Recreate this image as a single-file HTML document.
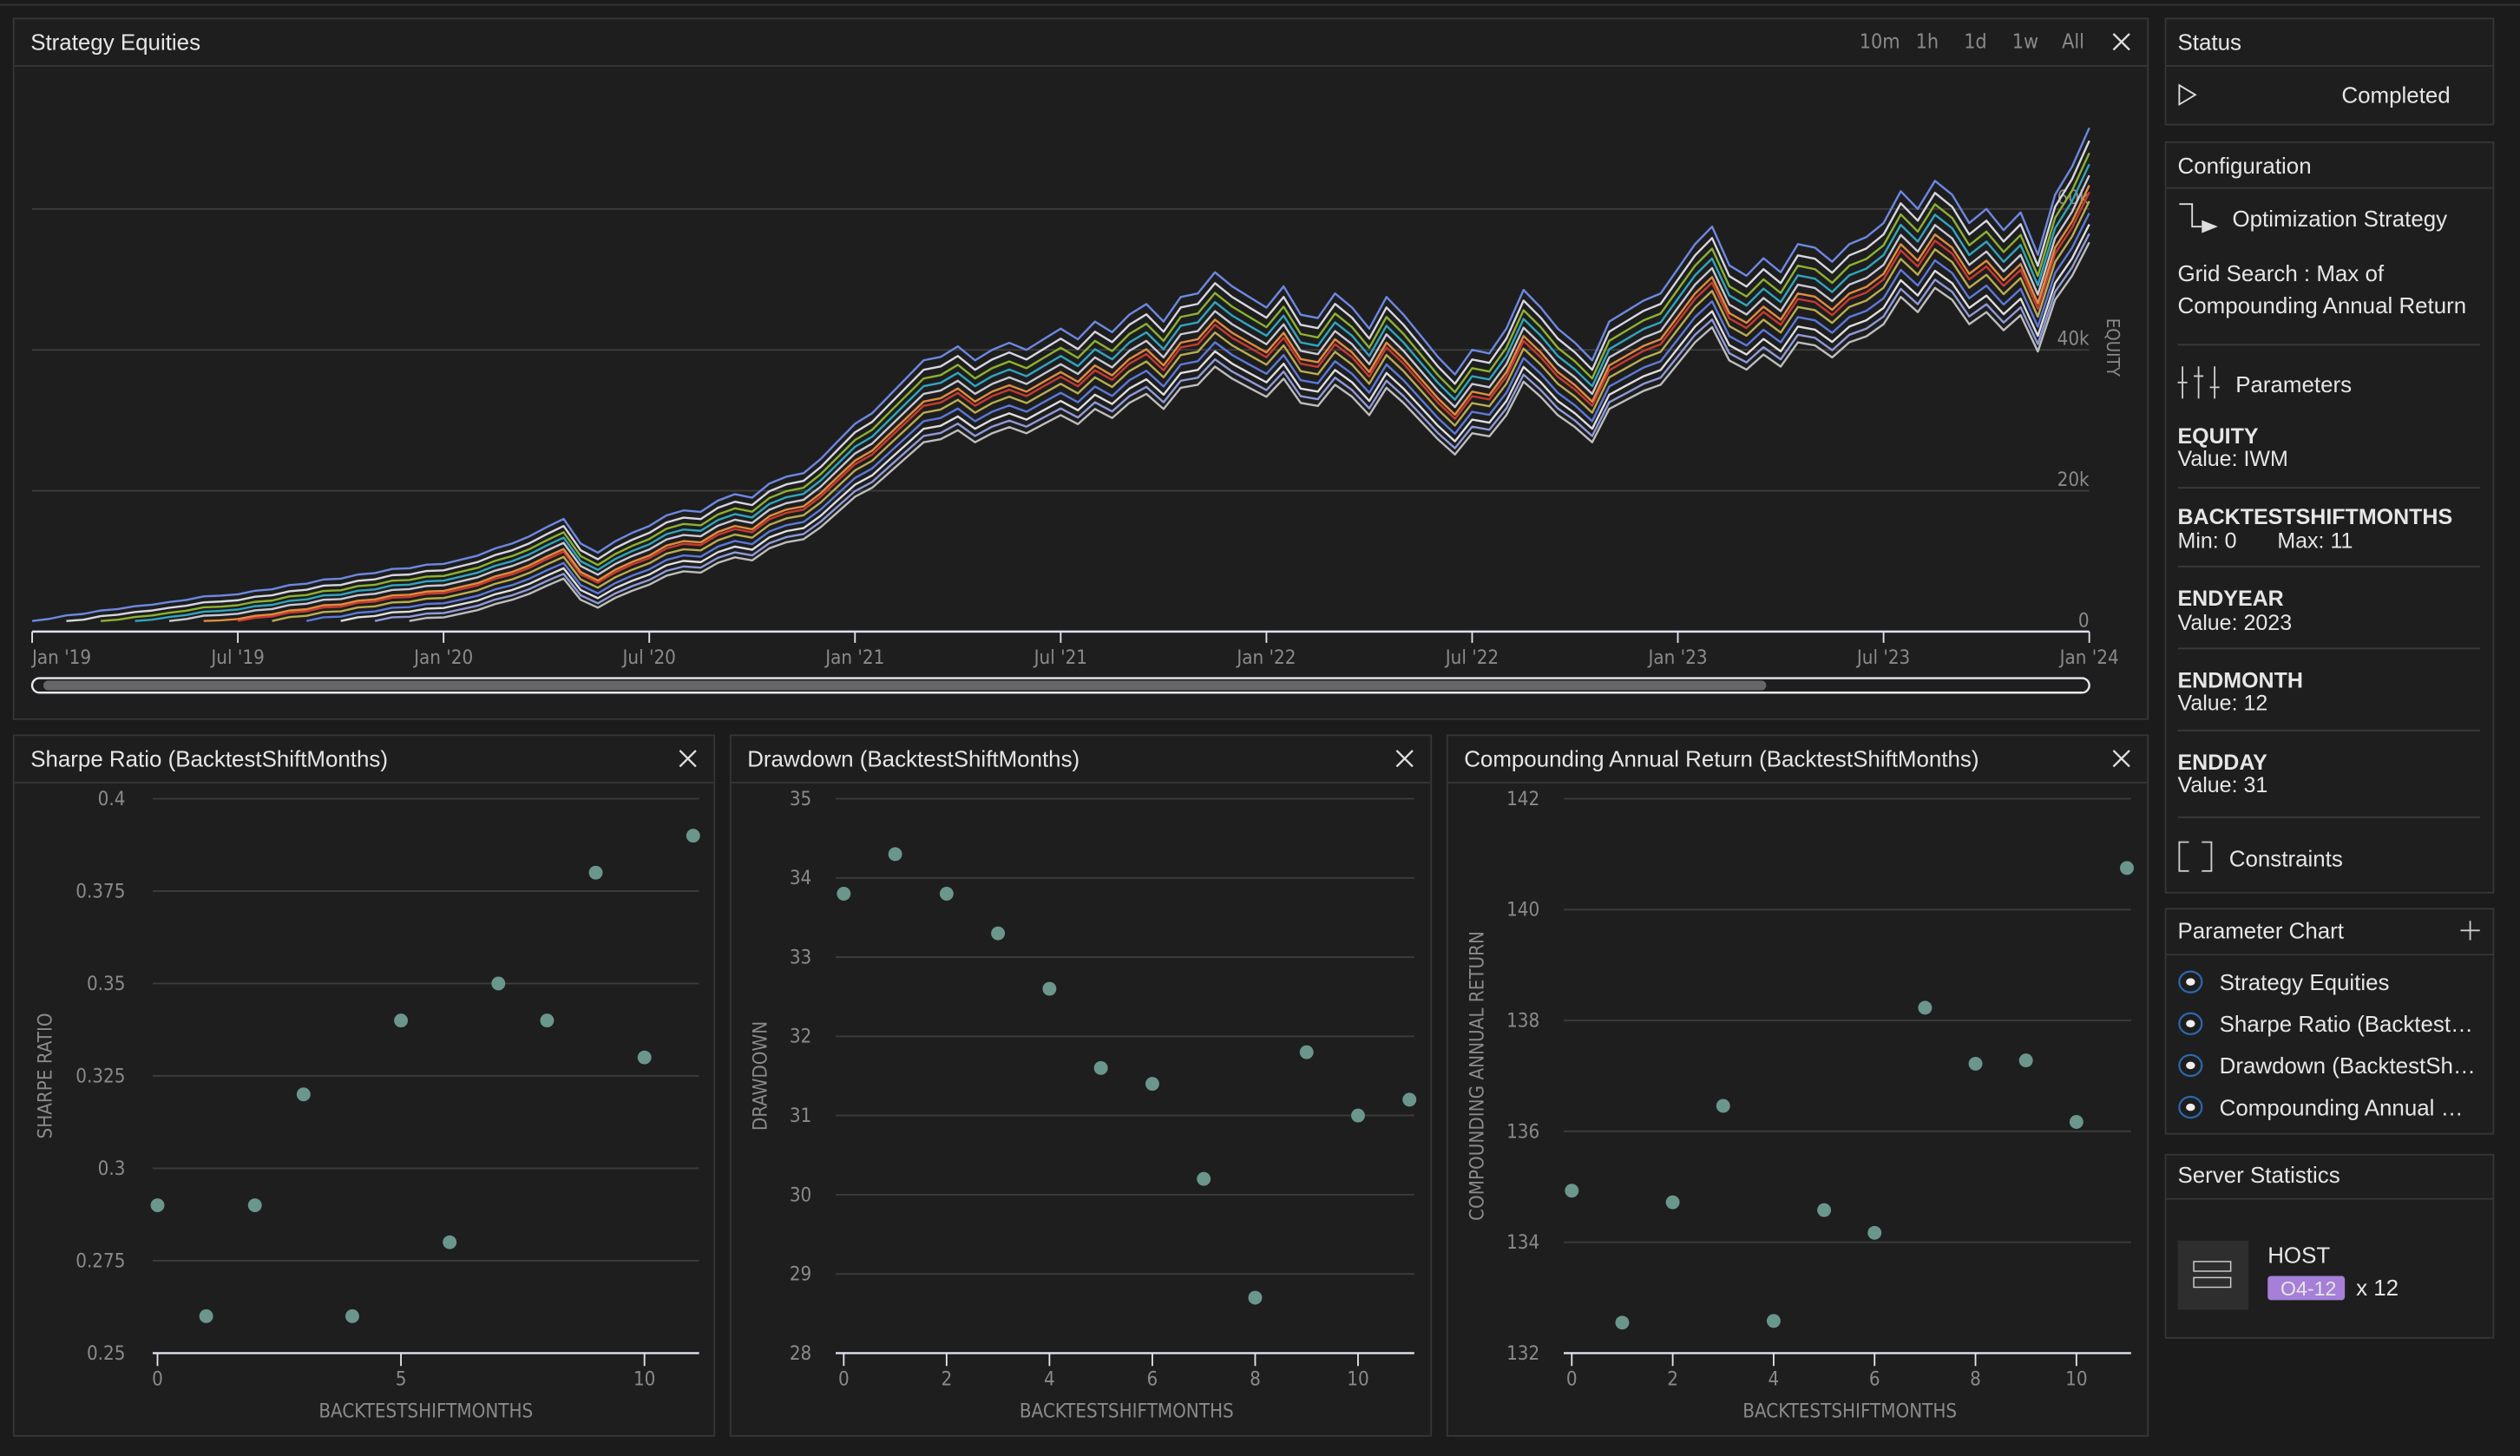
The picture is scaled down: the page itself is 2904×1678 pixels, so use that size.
<!DOCTYPE html>
<html><head><meta charset="utf-8">
<style>
html,body{margin:0;padding:0;background:#1b1b1b;overflow:hidden}
svg{display:block}
.t{font-family:"Liberation Sans",sans-serif;fill:#e6e6e6}
.ax{font-family:"DejaVu Sans Condensed","DejaVu Sans",sans-serif;fill:#8a8a8a}
</style></head>
<body>
<svg id="root" width="2904" height="1678" viewBox="0 0 1568 906" xmlns="http://www.w3.org/2000/svg">
<rect x="0" y="0" width="1568" height="906" fill="#1b1b1b"/>
<line x1="0" y1="3" x2="1568" y2="3" stroke="#333" stroke-width="1"/>

<g>
<rect x="8.5" y="11.5" width="1328" height="436" fill="#1e1e1e" stroke="#363636"/>
<line x1="9" y1="41" x2="1336" y2="41" stroke="#363636"/>
<text class="t" x="19" y="31" font-size="14">Strategy Equities</text>
<g class="ax" font-size="12.5" fill="#9a9a9a">
<text x="1157" y="30">10m</text>
<text x="1192" y="30">1h</text>
<text x="1222" y="30">1d</text>
<text x="1252" y="30">1w</text>
<text x="1283" y="30">All</text>
</g>
<path d="M1315 21 L1325 31 M1325 21 L1315 31" stroke="#ddd" stroke-width="1.3"/>
<g id="eq"></g>
<text class="ax" font-size="11" transform="translate(1311,198) rotate(90)">EQUITY</text>
<rect x="20" y="422" width="1280" height="9" rx="4.5" fill="none" stroke="#e8e8f0" stroke-width="1.3"/>
<rect x="27" y="423.5" width="1072" height="6" rx="3" fill="#666"/>
</g>

<g id="p1">
<rect x="8.5" y="457.5" width="436" height="436" fill="#1e1e1e" stroke="#363636"/>
<line x1="9" y1="487" x2="444" y2="487" stroke="#363636"/>
<text class="t" x="19" y="477" font-size="14">Sharpe Ratio (BacktestShiftMonths)</text>
<path d="M423 467 L433 477 M433 467 L423 477" stroke="#ddd" stroke-width="1.3"/>
</g>
<g id="p2">
<rect x="454.5" y="457.5" width="436" height="436" fill="#1e1e1e" stroke="#363636"/>
<line x1="455" y1="487" x2="890" y2="487" stroke="#363636"/>
<text class="t" x="465" y="477" font-size="14">Drawdown (BacktestShiftMonths)</text>
<path d="M869 467 L879 477 M879 467 L869 477" stroke="#ddd" stroke-width="1.3"/>
</g>
<g id="p3">
<rect x="900.5" y="457.5" width="436" height="436" fill="#1e1e1e" stroke="#363636"/>
<line x1="901" y1="487" x2="1336" y2="487" stroke="#363636"/>
<text class="t" x="911" y="477" font-size="14">Compounding Annual Return (BacktestShiftMonths)</text>
<path d="M1315 467 L1325 477 M1325 467 L1315 477" stroke="#ddd" stroke-width="1.3"/>
</g>

<g>
<rect x="1347.5" y="11.5" width="204" height="66" fill="#1e1e1e" stroke="#363636"/>
<line x1="1348" y1="41" x2="1551" y2="41" stroke="#363636"/>
<text class="t" x="1355" y="31" font-size="14">Status</text>
<path d="M1356 53 L1366 59 L1356 65 Z" fill="none" stroke="#ddd" stroke-width="1"/>
<text class="t" x="1457" y="64" font-size="14">Completed</text>
</g>
<g>
<rect x="1347.5" y="88.5" width="204" height="467" fill="#1e1e1e" stroke="#363636"/>
<line x1="1348" y1="117" x2="1551" y2="117" stroke="#363636"/>
<text class="t" x="1355" y="108" font-size="14">Configuration</text>
<path d="M1356 127 H1364 V141 H1370" fill="none" stroke="#ddd" stroke-width="1"/>
<path d="M1370 137 L1380 141 L1370 145 Z" fill="#ddd"/>
<text class="t" x="1389" y="141" font-size="14">Optimization Strategy</text>
<text class="t" x="1355" y="175" font-size="14">Grid Search : Max of</text>
<text class="t" x="1355" y="195" font-size="14">Compounding Annual Return</text>
<line x1="1355" y1="214.5" x2="1543" y2="214.5" stroke="#3a3a3a"/>
<path d="M1358 228v20 M1368 228v20 M1378 228v20 M1355 238h6 M1365 234h6 M1375 241h6" stroke="#ccc" stroke-width="1"/>
<text class="t" x="1391" y="244" font-size="14">Parameters</text>
<g class="t" font-size="13.5">
<text x="1355" y="276" font-weight="bold">EQUITY</text><text x="1355" y="290">Value: IWM</text>
<text x="1355" y="326" font-weight="bold">BACKTESTSHIFTMONTHS</text><text x="1355" y="341">Min: 0</text><text x="1417" y="341">Max: 11</text>
<text x="1355" y="377" font-weight="bold">ENDYEAR</text><text x="1355" y="392">Value: 2023</text>
<text x="1355" y="428" font-weight="bold">ENDMONTH</text><text x="1355" y="442">Value: 12</text>
<text x="1355" y="479" font-weight="bold">ENDDAY</text><text x="1355" y="493">Value: 31</text>
</g>
<g stroke="#3a3a3a"><line x1="1355" y1="303.5" x2="1543" y2="303.5"/><line x1="1355" y1="352.5" x2="1543" y2="352.5"/><line x1="1355" y1="403.5" x2="1543" y2="403.5"/><line x1="1355" y1="454.5" x2="1543" y2="454.5"/><line x1="1355" y1="508.5" x2="1543" y2="508.5"/></g>
<path d="M1362 524 H1356 V542 H1362 M1370 524 H1376 V542 H1370" fill="none" stroke="#ccc" stroke-width="1"/>
<text class="t" x="1387" y="539" font-size="14">Constraints</text>
</g>
<g>
<rect x="1347.5" y="565.5" width="204" height="140" fill="#1e1e1e" stroke="#363636"/>
<line x1="1348" y1="594" x2="1551" y2="594" stroke="#363636"/>
<text class="t" x="1355" y="584" font-size="14">Parameter Chart</text>
<path d="M1531 579 H1543 M1537 573 V585" stroke="#ccc" stroke-width="1"/>
<g id="radios"></g>
</g>
<g>
<rect x="1347.5" y="718.5" width="204" height="114" fill="#1e1e1e" stroke="#363636"/>
<line x1="1348" y1="746" x2="1551" y2="746" stroke="#363636"/>
<text class="t" x="1355" y="736" font-size="14">Server Statistics</text>
<rect x="1355" y="772" width="44" height="43" fill="#2e2e2e"/>
<rect x="1365" y="785" width="23" height="6" fill="none" stroke="#ccc" stroke-width="0.8"/>
<rect x="1365" y="795" width="23" height="6" fill="none" stroke="#ccc" stroke-width="0.8"/>
<text class="t" x="1411" y="786" font-size="14">HOST</text>
<rect x="1411" y="794" width="48" height="15" rx="2" fill="#a57fd8"/>
<text class="t" x="1419" y="806" font-size="12.5" fill="#fff">O4-12</text>
<text class="t" x="1466" y="806" font-size="14">x 12</text>
</g>
</svg>
<script>
const eqBase = [1.5,1.8,2.3,2.5,3.0,3.2,3.6,3.8,4.2,4.5,5.0,5.1,
5.3,5.8,6.0,6.6,6.8,7.4,7.5,8.1,8.3,8.9,9.0,9.5,
9.6,10.2,10.8,11.8,12.5,13.5,14.8,16.0,12.5,11.2,12.8,14.0,
15.0,16.5,17.2,17.0,18.6,19.5,19.0,21.0,22.0,22.5,24.5,27.0,
29.5,31.0,33.5,36.0,38.5,39.0,40.5,38.5,40.0,41.0,40.0,41.5,
43.0,41.5,44.0,42.5,45.0,46.5,44.0,47.5,48.0,51.0,49.0,47.5,
46.0,49.0,45.0,44.5,48.0,46.0,43.0,47.5,45.0,42.0,39.0,36.5,
40.0,39.5,43.0,48.5,46.0,43.0,41.0,38.5,44.0,45.5,47.0,48.0,
51.5,55.0,57.5,52.0,50.5,53.0,51.0,55.0,54.5,52.5,55.0,56.0,
58.0,62.5,60.0,64.0,62.0,58.0,60.0,57.0,59.5,53.5,62.0,66.0,71.5];
const seriesStart = [0,1,2,3,4,5,6,7,8,9,10,11];
const seriesScale = [1.0,0.985,0.97,0.955,0.94,0.93,0.92,0.91,0.895,0.88,0.87,0.86];
const seriesColors = ['#6d88e2','#d6d6e0','#8db22e','#30a5bf','#c9c9d4','#e08c3e','#c83a2f','#b8ad50','#5c79da','#dedede','#8f9ad8','#bdbdbd'];
const eqYTicks = [0,20,40,60];
const eqYLabels = ['0','20k','40k','60k'];
const eqXLabels = ["Jan '19","Jul '19","Jan '20","Jul '20","Jan '21","Jul '21","Jan '22","Jul '22","Jan '23","Jul '23","Jan '24"];

const shiftMonths = [0,1,2,3,4,5,6,7,8,9,10,11];
const sharpeValues = [0.29,0.26,0.29,0.32,0.26,0.34,0.28,0.35,0.34,0.38,0.33,0.39];
const drawdownValues = [33.8,34.3,33.8,33.3,32.6,31.6,31.4,30.2,28.7,31.8,31.0,31.2];
const carValues = [134.93,132.55,134.72,136.46,132.58,134.58,134.17,138.23,137.22,137.28,136.17,140.75];
const sharpeTicks = [0.25,0.275,0.3,0.325,0.35,0.375,0.4];
const drawdownTicks = [28,29,30,31,32,33,34,35];
const carTicks = [132,134,136,138,140,142];
const radioLabels = ['Strategy Equities','Sharpe Ratio (Backtest…','Drawdown (BacktestSh…','Compounding Annual …'];

const NS='http://www.w3.org/2000/svg';
function mk(tag,attrs,parent){const e=document.createElementNS(NS,tag);for(const k in attrs)e.setAttribute(k,attrs[k]);parent.appendChild(e);return e;}

(function(){
  const g=document.getElementById('eq');
  const x0=20,x1=1300,y0=393,y1=130;
  const n=eqBase.length;
  const xs=i=>x0+(x1-x0)*i/(n-1);
  const ys=v=>y0-(y0-y1)*v/60;
  eqYTicks.forEach((t,i)=>{
    if(t>0){const l=mk('line',{x1:x0,x2:x1,y1:ys(t),y2:ys(t),stroke:'#3c3c3c','stroke-width':1},g);
    
    }
    const tx=mk('text',{x:x1,y:ys(t)-3,'text-anchor':'end','font-size':12,class:'ax'},g);
    tx.textContent=eqYLabels[i];
    
    
  });
  for(let s=seriesStart.length-1;s>=0;s--){
    const st=seriesStart[s]*2;let d='';
    for(let i=st;i<n;i++){
      const v=seriesScale[s]*(eqBase[i]-eqBase[st])+eqBase[0];
      d+=(i===st?'M':'L')+xs(i).toFixed(1)+' '+ys(v).toFixed(1);
    }
    const p=mk('path',{d:d,fill:'none',stroke:seriesColors[s],'stroke-width':1.3,'stroke-linejoin':'round'},g);
    
    
  }
  const ax=mk('line',{x1:x0,x2:x1,y1:y0,y2:y0,stroke:'#dfe3f0','stroke-width':1.3},g);
  
  
  eqXLabels.forEach((lab,i)=>{
    const x=x0+(x1-x0)*i/(eqXLabels.length-1);
    mk('line',{x1:x,x2:x,y1:y0,y2:y0+7,stroke:'#dfe3f0','stroke-width':1},g);
    const t=mk('text',{x:i===0?x:x,y:y0+20,'text-anchor':i===0?'start':'middle','font-size':12,class:'ax'},g);
    t.textContent=lab;
    
    
  });
})();

function scatter(id,vals,ticks,cfg){
  const g=document.getElementById(id);
  const xs=v=>cfg.xa+(cfg.xb-cfg.xa)*v/10;
  const lo=ticks[0],hi=ticks[ticks.length-1];
  const ys=v=>842-(842-497)*(v-lo)/(hi-lo);
  ticks.forEach(t=>{
    if(t!==lo){const l=mk('line',{x1:cfg.gl,x2:cfg.gr,y1:ys(t),y2:ys(t),stroke:'#3c3c3c','stroke-width':1},g);
    
    }
    const tx=mk('text',{x:cfg.lx,y:ys(t)+4,'text-anchor':'end','font-size':12,class:'ax'},g);
    tx.textContent=String(t);
    
    
  });
  const ax=mk('line',{x1:cfg.gl,x2:cfg.gr,y1:842,y2:842,stroke:'#dfe3f0','stroke-width':1.3},g);
  
  
  for(let v=0;v<=10;v+=cfg.step){
    mk('line',{x1:xs(v),x2:xs(v),y1:842,y2:850,stroke:'#dfe3f0','stroke-width':1},g);
    const t=mk('text',{x:xs(v),y:862,'text-anchor':'middle','font-size':12,class:'ax'},g);
    t.textContent=String(v);
    
    
  }
  vals.forEach((v,i)=>{
    const c=mk('circle',{cx:xs(shiftMonths[i]),cy:ys(v),r:4.3,fill:'#6b968c'},g);
    
    
  });
  const xt=mk('text',{x:cfg.xt,y:882,'text-anchor':'middle','font-size':12,class:'ax'},g);
  xt.textContent='BACKTESTSHIFTMONTHS';
  
  
  const yt=mk('text',{transform:'translate('+cfg.yx+',669.5) rotate(-90)','text-anchor':'middle','font-size':12,class:'ax'},g);
  yt.textContent=cfg.ytitle;
  
  
}
scatter('p1',sharpeValues,sharpeTicks,{xa:98,xb:401,gl:95,gr:435,lx:78,step:5,xt:265,yx:32,ytitle:'SHARPE RATIO'});
scatter('p2',drawdownValues,drawdownTicks,{xa:525,xb:845,gl:520,gr:880,lx:505,step:2,xt:701,yx:477,ytitle:'DRAWDOWN'});
scatter('p3',carValues,carTicks,{xa:978,xb:1292,gl:973,gr:1326,lx:958,step:2,xt:1151,yx:923,ytitle:'COMPOUNDING ANNUAL RETURN'});

(function(){
  const g=document.getElementById('radios');
  radioLabels.forEach((lab,i)=>{
    const y=611+26*i;
    const c=mk('ellipse',{cx:1363,cy:y,rx:7,ry:6.5,fill:'none',stroke:'#2a68b0','stroke-width':1.2},g);
    
    
    mk('ellipse',{cx:1363,cy:y,rx:2.8,ry:2.3,fill:'#eee'},g);
    const t=mk('text',{x:1381,y:y+5,'font-size':14,class:'t'},g);
    t.textContent=lab;
    
    
  });
})();
</script>
</body></html>
